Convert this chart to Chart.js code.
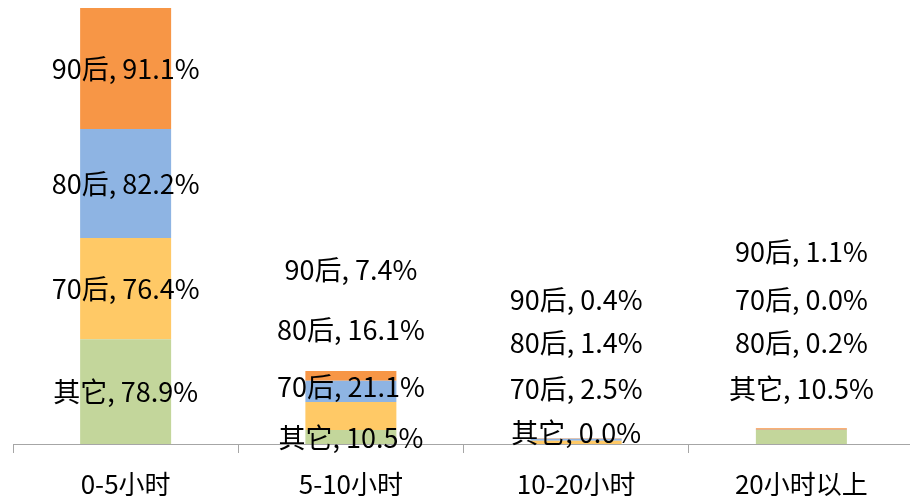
<!DOCTYPE html>
<html>
<head>
<meta charset="utf-8">
<script src="https://cdn.jsdelivr.net/npm/chart.js@4"></script>
<style>
html,body{margin:0;padding:0;background:#fff;overflow:hidden;}
#wrap{width:920px;height:502px;position:relative;}
</style>
</head>
<body>
<div id="wrap"><canvas id="c"></canvas></div>
<script>
// Data
const categories = ['0-5小时', '5-10小时', '10-20小时', '20小时以上'];
const seriesNames = ['其它', '70后', '80后', '90后'];
const otherVals = [78.9, 10.5, 0.0, 10.5];
const v70 = [76.4, 21.1, 2.5, 0.0];
const v80 = [82.2, 16.1, 1.4, 0.2];
const v90 = [91.1, 7.4, 0.4, 1.1];

// Label placement (value-axis units; null = centered in segment)
const labelAt = [
  [null, 4.5, 8.3, 41.5],
  [null, 43, 41.5, 109],
  [null, 86, 76, 76],
  [null, 131, 109, 144.7]
];

const colors = ['#C3D69B', '#FFC966', '#8EB4E3', '#F79646'];
const FONT = '"Noto Sans CJK SC", "Noto Sans", sans-serif';

const seriesData = [otherVals, v70, v80, v90];

const labelPlugin = {
  id: 'segLabels',
  afterDatasetsDraw(chart) {
    const ctx = chart.ctx;
    const yScale = chart.scales.y;
    ctx.save();
    ctx.font = '27px ' + FONT;
    ctx.fillStyle = '#000';
    ctx.textAlign = 'center';
    ctx.textBaseline = 'middle';
    chart.data.datasets.forEach((ds, di) => {
      const meta = chart.getDatasetMeta(di);
      meta.data.forEach((bar, i) => {
        const v = ds.data[i];
        let y;
        if (labelAt[di][i] === null) {
          y = (bar.y + bar.base) / 2;
        } else {
          y = yScale.getPixelForValue(labelAt[di][i]);
        }
        ctx.fillText(ds.label + ', ' + v.toFixed(1) + '%', bar.x, y);
      });
    });
    ctx.restore();
  }
};

new Chart(document.getElementById('c'), {
  type: 'bar',
  data: {
    labels: categories,
    datasets: seriesNames.map((n, k) => ({
      label: n,
      data: seriesData[k],
      backgroundColor: colors[k],
      borderWidth: 0,
      barPercentage: 0.404,
      categoryPercentage: 1.0
    }))
  },
  options: {
    responsive: true,
    maintainAspectRatio: false,
    animation: false,
    layout: { padding: { top: 8, left: 13, right: 6, bottom: 0 } },
    plugins: { legend: { display: false }, tooltip: { enabled: false } },
    scales: {
      x: {
        stacked: true,
        grid: { display: true, drawOnChartArea: false, drawTicks: true, tickLength: 9, color: '#A6A6A6', offset: true },
        border: { display: true, color: '#A6A6A6', width: 1 },
        ticks: { color: '#000', font: { family: FONT, size: 26 }, padding: 16, maxRotation: 0 },
        afterFit(s) { s.height = 58; }
      },
      y: {
        stacked: true,
        display: false,
        min: 0,
        max: 328.6
      }
    }
  },
  plugins: [labelPlugin]
});
</script>
</body>
</html>
